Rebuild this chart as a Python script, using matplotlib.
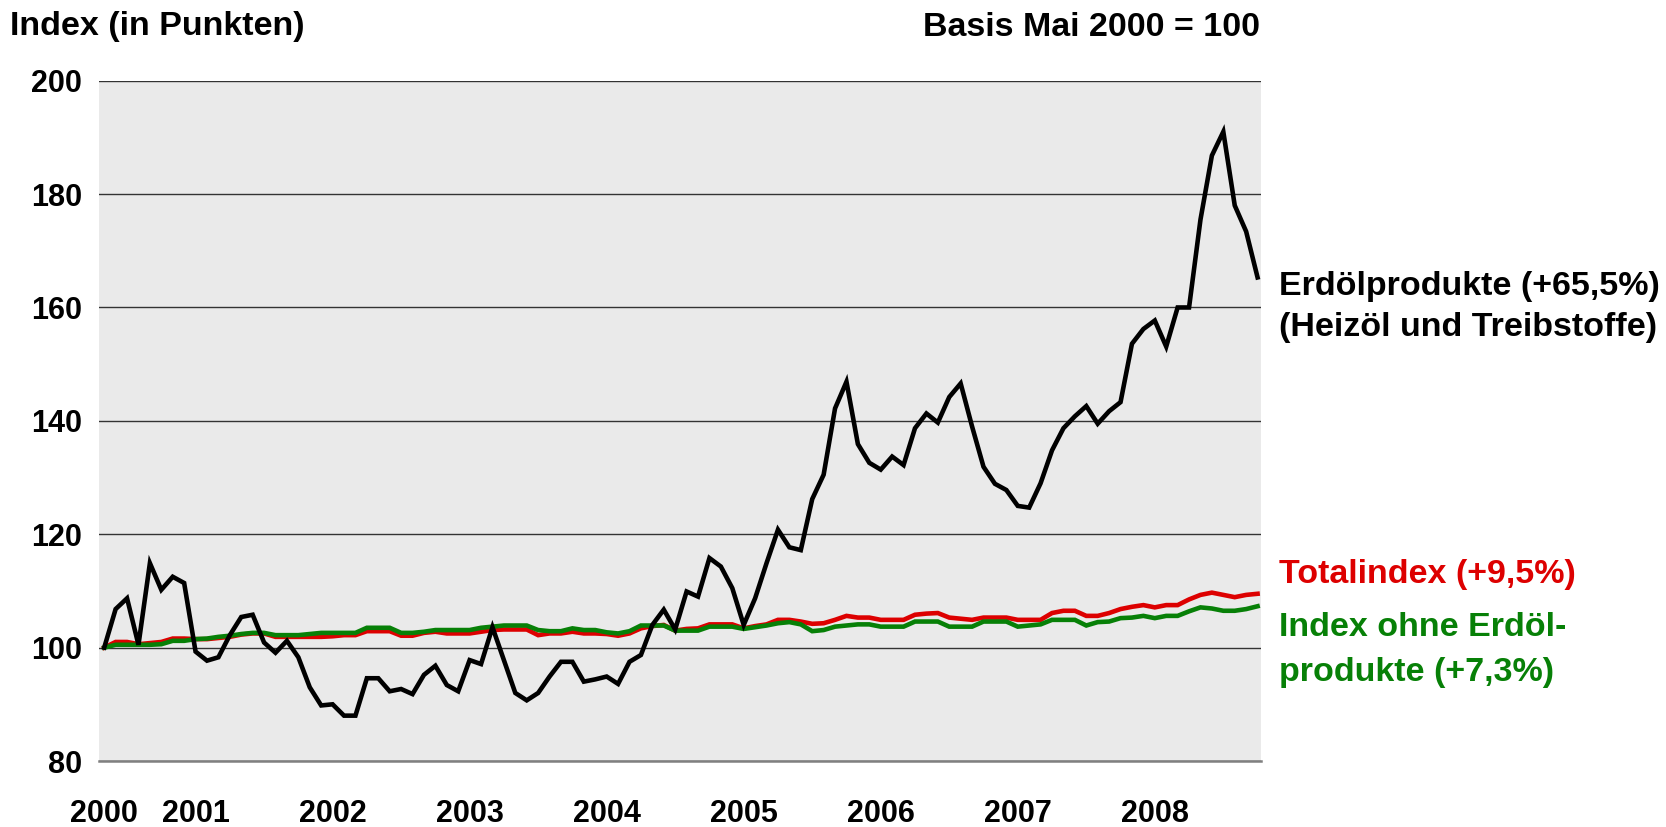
import matplotlib.pyplot as plt
import numpy as np

plt.rcParams['font.family'] = ['Liberation Sans', 'DejaVu Sans']
plt.rcParams['font.weight'] = 'bold'

# monthly values, May 2000 .. Oct 2008 (index May 2000 = 100)
erdoel = [100.0, 106.8, 108.7, 100.5, 114.9, 110.2, 112.5, 111.4,
          99.3, 97.7, 98.3, 102.2, 105.4, 105.8, 100.9, 99.1, 101.2, 98.3, 93.0, 89.8,
          90.0, 88.0, 88.0, 94.6, 94.6, 92.3, 92.7, 91.8, 95.2, 96.8, 93.4, 92.3,
          97.8, 97.1, 103.6, 97.8, 92.0, 90.7, 92.0, 94.9, 97.5, 97.5, 94.0, 94.4,
          94.9, 93.6, 97.5, 98.7, 104.0, 106.7, 103.2, 109.9, 109.0, 115.8, 114.3, 110.5,
          104.0, 108.7, 114.9, 120.8, 117.7, 117.2, 126.2, 130.5, 142.2, 146.9, 135.9, 132.6,
          131.4, 133.7, 132.2, 138.7, 141.3, 139.7, 144.2, 146.6, 139.0, 131.9, 128.9, 127.8,
          125.0, 124.7, 129.0, 134.8, 138.7, 140.8, 142.6, 139.5, 141.7, 143.3, 153.6, 156.2,
          157.7, 153.1, 160.0, 160.0, 175.5, 186.8, 191.0, 178.0, 173.4, 165.3]

total = [100.0, 101.0, 101.0, 100.6, 100.8, 101.0, 101.6, 101.6,
         101.5, 101.5, 101.7, 101.9, 102.3, 102.5, 102.5, 101.9, 101.9, 101.9, 101.9, 101.9,
         102.0, 102.2, 102.2, 102.9, 102.9, 102.9, 102.1, 102.1, 102.6, 102.8, 102.5, 102.5,
         102.5, 102.8, 103.1, 103.2, 103.2, 103.2, 102.2, 102.5, 102.5, 102.8, 102.5, 102.5,
         102.4, 102.1, 102.5, 103.4, 103.8, 104.0, 103.0, 103.3, 103.4, 104.1, 104.1, 104.1,
         103.4, 103.8, 104.1, 104.9, 104.9, 104.6, 104.2, 104.3, 104.9, 105.6, 105.3, 105.3,
         104.9, 104.9, 104.9, 105.8, 106.0, 106.1, 105.3, 105.1, 104.9, 105.3, 105.3, 105.3,
         104.9, 104.9, 104.9, 106.1, 106.5, 106.5, 105.6, 105.6, 106.1, 106.8, 107.2, 107.5,
         107.1, 107.5, 107.5, 108.5, 109.3, 109.7, 109.3, 108.9, 109.3, 109.5]

ohne = [100.0, 100.5, 100.5, 100.5, 100.5, 100.6, 101.2, 101.2,
        101.5, 101.6, 101.9, 102.1, 102.4, 102.6, 102.6, 102.2, 102.2, 102.2, 102.4, 102.6,
        102.6, 102.6, 102.6, 103.5, 103.5, 103.5, 102.6, 102.6, 102.8, 103.1, 103.1, 103.1,
        103.1, 103.5, 103.7, 103.9, 103.9, 103.9, 103.1, 102.9, 102.9, 103.4, 103.1, 103.1,
        102.7, 102.5, 102.9, 103.9, 103.9, 103.9, 103.0, 103.0, 103.0, 103.7, 103.7, 103.7,
        103.3, 103.6, 103.9, 104.3, 104.5, 104.1, 102.9, 103.1, 103.7, 103.9, 104.1, 104.1,
        103.7, 103.7, 103.7, 104.6, 104.6, 104.6, 103.7, 103.7, 103.7, 104.6, 104.6, 104.6,
        103.7, 103.9, 104.1, 104.9, 104.9, 104.9, 103.9, 104.5, 104.6, 105.2, 105.3, 105.6,
        105.2, 105.6, 105.6, 106.4, 107.1, 106.9, 106.5, 106.5, 106.8, 107.3]

year_labels = ["2000", "2001", "2002", "2003", "2004", "2005", "2006", "2007", "2008"]
year_pos = [0, 8, 20, 32, 44, 56, 68, 80, 92]   # month index of label
y_ticks = [80, 100, 120, 140, 160, 180, 200]

x = np.arange(len(erdoel))

fig = plt.figure(figsize=(16.66, 8.27), dpi=100)
ax = fig.add_axes([0.0594, 0.0798, 0.6975, 0.8226])
ax.set_facecolor('#eaeaea')

ax.plot(x, total, color='#dd0000', lw=3.3, solid_joinstyle='miter', zorder=3)
ax.plot(x, ohne, color='#078007', lw=3.3, solid_joinstyle='miter', zorder=4)
ax.plot(x, erdoel, color='black', lw=3.3, solid_joinstyle='miter', zorder=5)

ax.set_xlim(-0.46, 101.3)
ax.set_ylim(80, 200)
ax.set_yticks(y_ticks)
ax.set_yticklabels([str(v) for v in y_ticks])
ax.set_xticks(year_pos)
ax.set_xticklabels(year_labels)
ax.tick_params(axis='y', length=0, pad=12, labelsize=22)
ax.tick_params(axis='x', length=0, pad=27, labelsize=22)
ax.grid(axis='y', color='#333333', lw=1.0, zorder=1)
ax.set_axisbelow(True)
for s in ['top', 'left', 'right']:
    ax.spines[s].set_visible(False)
ax.spines['bottom'].set_color('#808080')
ax.spines['bottom'].set_linewidth(1.8)

fs = 24.5
fig.text(10 / 1666, 1 - 27 / 827, "Index (in Punkten)", fontsize=fs, va='center', ha='left')
fig.text(1260 / 1666, 1 - 27 / 827, "Basis Mai 2000 = 100", fontsize=fs, va='center', ha='right')
fig.text(1279 / 1666, 1 - 286 / 827, "Erdölprodukte (+65,5%)", fontsize=fs, va='center', color='black')
fig.text(1279 / 1666, 1 - 328 / 827, "(Heizöl und Treibstoffe)", fontsize=fs, va='center', color='black')
fig.text(1279 / 1666, 1 - 575 / 827, "Totalindex (+9,5%)", fontsize=fs, va='center', color='#dd0000')
fig.text(1279 / 1666, 1 - 628 / 827, "Index ohne Erdöl-", fontsize=fs, va='center', color='#078007')
fig.text(1279 / 1666, 1 - 672 / 827, "produkte (+7,3%)", fontsize=fs, va='center', color='#078007')

fig.savefig("out.png", dpi=100)
